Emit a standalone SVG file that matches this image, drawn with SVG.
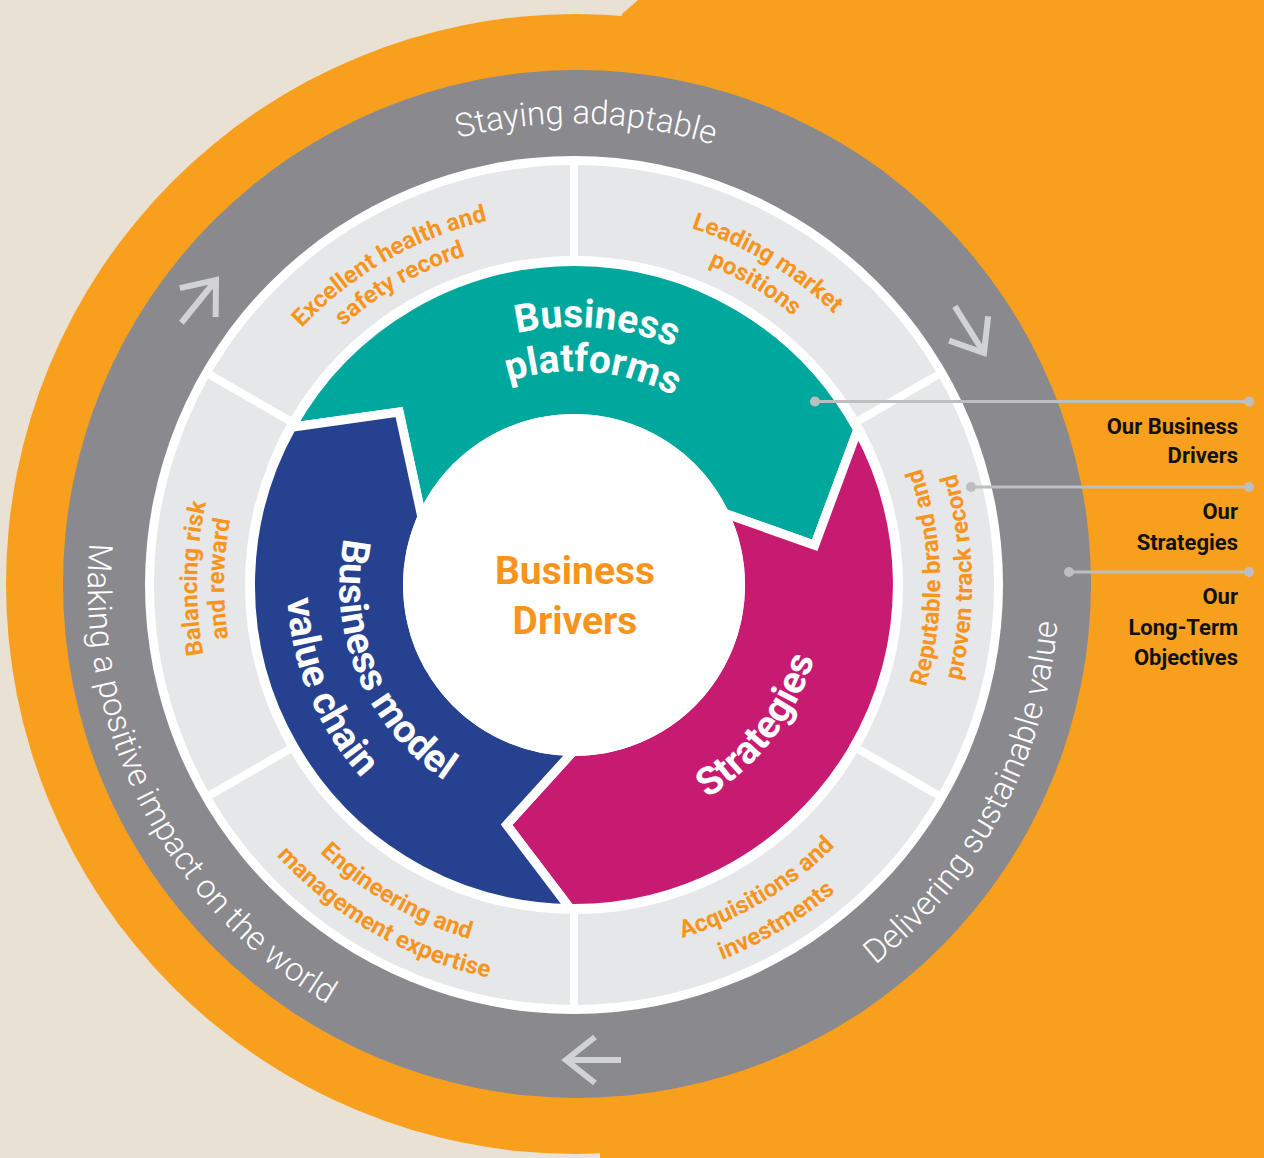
<svg xmlns="http://www.w3.org/2000/svg" width="1264" height="1158" viewBox="0 0 1264 1158">
<style>
text{font-family:Roboto,"Liberation Sans",sans-serif}
.ring{font-weight:300;font-size:33px;fill:#fff}
.lbl{font-weight:700;font-size:24px;fill:#F7941D}
.seg{font-weight:700;font-size:39px;fill:#fff}
.ctr{font-weight:700;font-size:39px;fill:#F7941D}
.leg{font-weight:700;font-size:22px;fill:#111}
.arw{fill:none;stroke:#D1D2D4;stroke-width:6}
.cl{stroke:#BDBEC0;stroke-width:3;fill:none}
.dot{fill:#BDBEC0}
.arc{stroke:#fff;stroke-width:9;stroke-linejoin:miter}
</style>
<defs>
<path id="pA" d="M115.0,532.7 A462,462 0 0 1 1035.1,556.8"/>
<path id="pB" d="M314.3,174.2 A486,486 0 0 0 758.4,1034.7"/>
<path id="pC" d="M384.5,1031.4 A485,485 0 0 0 838.1,178.2"/>
<path id="pD1" d="M319.9,540.2 A258,258 0 0 1 832,585"/>
<path id="pD2" d="M363.3,547.8 A214,214 0 0 1 788,585"/>
<path id="pE1" d="M465.5,376.6 A235,235 0 0 0 644.7,809.1"/>
<path id="pE2" d="M441.5,330.4 A287,287 0 0 0 660.3,858.7"/>
<path id="pF" d="M439.1,796.7 A251,251 0 0 0 743.6,399.9"/>
<path id="g1a" d="M235.0,743.1 A374,374 0 0 1 880.4,370.5"/>
<path id="g1b" d="M259.5,731.6 A347,347 0 0 1 858.2,386.0"/>
<path id="g2a" d="M269.8,364.0 A376,376 0 0 1 911.9,749.8"/>
<path id="g2b" d="M293.3,381.0 A347,347 0 0 1 885.9,737.1"/>
<path id="g3a" d="M613.5,948.9 A366,366 0 0 0 598.3,219.8"/>
<path id="g3b" d="M617.0,980.7 A398,398 0 0 0 600.4,187.9"/>
<path id="g4a" d="M275.5,801.9 A369,369 0 0 0 905.7,423.2"/>
<path id="g4b" d="M248.0,821.9 A403,403 0 0 0 936.2,408.3"/>
<path id="g5a" d="M239.6,429.1 A369,369 0 0 0 876.3,796.7"/>
<path id="g5b" d="M209.7,415.1 A402,402 0 0 0 903.3,815.6"/>
<path id="g6a" d="M534.6,959.9 A377,377 0 0 1 547.7,208.9"/>
<path id="g6b" d="M537.4,933.1 A350,350 0 0 1 549.6,235.9"/>
<g id="arrowIcon"><path class="arw" d="M-29,-23 L0,0 L-29,23 M0,0 L-55,0"/></g>
</defs>

<g id="background">
<rect x="0" y="0" width="1264" height="1158" fill="#E9E1D3"/>
<circle cx="576" cy="584" r="570" fill="#F8A01D"/>
<path d="M622,14 L638,0 L1264,0 L1264,1158 L600,1158 Z" fill="#F8A01D"/>
</g>

<g id="node-long-term-objectives">
<circle cx="577" cy="584" r="514" fill="#8A898E"/>
<circle cx="574" cy="585" r="429" fill="#fff"/>
<use href="#arrowIcon" transform="translate(216,280) rotate(-51)"/>
<use href="#arrowIcon" transform="translate(984,353) rotate(58)"/>
<use href="#arrowIcon" transform="translate(566,1060) rotate(180)"/>
<text class="ring" text-anchor="middle"><textPath href="#pA" startOffset="50%">Staying adaptable</textPath></text>
<text class="ring" text-anchor="middle"><textPath href="#pB" startOffset="50%">Making a positive impact on the world</textPath></text>
<text class="ring" text-anchor="middle"><textPath href="#pC" startOffset="50%">Delivering sustainable value</textPath></text>
</g>

<g id="node-strategies-ring">
<circle cx="574" cy="585" r="374.5" fill="none" stroke="#E6E7E8" stroke-width="91"/>
<g stroke="#fff" stroke-width="8">
<line x1="574" y1="263" x2="574" y2="160"/>
<line x1="574" y1="907" x2="574" y2="1010"/>
<line x1="852.9" y1="424" x2="942.1" y2="372.5"/>
<line x1="852.9" y1="746" x2="942.1" y2="797.5"/>
<line x1="295.1" y1="746" x2="205.9" y2="797.5"/>
<line x1="295.1" y1="424" x2="205.9" y2="372.5"/>
</g>
</g>

<g id="label-excellent-health">
<text class="lbl" text-anchor="middle"><textPath href="#g1a" startOffset="50%">Excellent health and</textPath></text>
<text class="lbl" text-anchor="middle"><textPath href="#g1b" startOffset="50%">safety record</textPath></text>
</g>
<g id="label-leading-market">
<text class="lbl" text-anchor="middle"><textPath href="#g2a" startOffset="50%">Leading market</textPath></text>
<text class="lbl" text-anchor="middle"><textPath href="#g2b" startOffset="50%">positions</textPath></text>
</g>
<g id="label-reputable-brand">
<text class="lbl" text-anchor="middle"><textPath href="#g3a" startOffset="50%">Reputable brand and</textPath></text>
<text class="lbl" text-anchor="middle"><textPath href="#g3b" startOffset="50%">proven track record</textPath></text>
</g>
<g id="label-acquisitions">
<text class="lbl" text-anchor="middle"><textPath href="#g4a" startOffset="50%">Acquisitions and</textPath></text>
<text class="lbl" text-anchor="middle"><textPath href="#g4b" startOffset="50%">investments</textPath></text>
</g>
<g id="label-engineering">
<text class="lbl" text-anchor="middle"><textPath href="#g5a" startOffset="50%">Engineering and</textPath></text>
<text class="lbl" text-anchor="middle"><textPath href="#g5b" startOffset="50%">management expertise</textPath></text>
</g>
<g id="label-balancing-risk">
<text class="lbl" text-anchor="middle"><textPath href="#g6a" startOffset="50%">Balancing risk</textPath></text>
<text class="lbl" text-anchor="middle"><textPath href="#g6b" startOffset="50%">and reward</textPath></text>
</g>

<g id="node-business-platforms">
<path class="arc" fill="#00A79D" d="M291.6,427.2 A323.5,323.5 0 0 1 857.7,429.7 L814.7,545.2 L724.3,513.3 A166.5,166.5 0 0 0 421.9,517.3 L399.1,412.0 Z"/>
<text class="seg" text-anchor="middle"><textPath href="#pD1" startOffset="50%">Business</textPath></text>
<text class="seg" text-anchor="middle"><textPath href="#pD2" startOffset="50%">platforms</textPath></text>
</g>
<g id="node-strategies">
<path class="arc" fill="#C71B72" d="M857.7,429.7 A323.5,323.5 0 0 1 570.1,908.5 L506.6,824.7 L573.1,751.5 A166.5,166.5 0 0 0 724.3,513.3 L814.7,545.2 Z"/>
<text class="seg" text-anchor="middle"><textPath href="#pF" startOffset="50%">Strategies</textPath></text>
</g>
<g id="node-business-model">
<path class="arc" fill="#26418F" d="M570.1,908.5 A323.5,323.5 0 0 1 291.6,427.2 L399.1,412.0 L421.9,517.3 A166.5,166.5 0 0 0 573.1,751.5 L506.6,824.7 Z"/>
<text class="seg" text-anchor="middle"><textPath href="#pE1" startOffset="50%">Business model</textPath></text>
<text class="seg" text-anchor="middle"><textPath href="#pE2" startOffset="50%">value chain</textPath></text>
</g>

<g id="node-business-drivers">
<circle cx="574" cy="585" r="171" fill="#fff"/>
<text class="ctr" x="575" y="584" text-anchor="middle">Business</text>
<text class="ctr" x="575" y="634" text-anchor="middle">Drivers</text>
</g>

<g id="connectors">
<line class="cl" x1="815" y1="401.5" x2="1249" y2="401.5"/>
<circle class="dot" cx="815" cy="401.5" r="5"/><circle class="dot" cx="1249" cy="401.5" r="5"/>
<line class="cl" x1="971" y1="487" x2="1249" y2="487"/>
<circle class="dot" cx="971" cy="487" r="5"/><circle class="dot" cx="1249" cy="487" r="5"/>
<line class="cl" x1="1069" y1="572" x2="1249" y2="572"/>
<circle class="dot" cx="1069" cy="572" r="5"/><circle class="dot" cx="1249" cy="572" r="5"/>
</g>

<g id="legend">
<g id="legend-business-drivers"><text class="leg" x="1238" y="434" text-anchor="end">Our Business</text><text class="leg" x="1238" y="463" text-anchor="end">Drivers</text></g>
<g id="legend-strategies"><text class="leg" x="1238" y="519" text-anchor="end">Our</text><text class="leg" x="1238" y="550" text-anchor="end">Strategies</text></g>
<g id="legend-objectives"><text class="leg" x="1238" y="604" text-anchor="end">Our</text><text class="leg" x="1238" y="635" text-anchor="end">Long-Term</text><text class="leg" x="1238" y="665" text-anchor="end">Objectives</text></g>
</g>
</svg>
